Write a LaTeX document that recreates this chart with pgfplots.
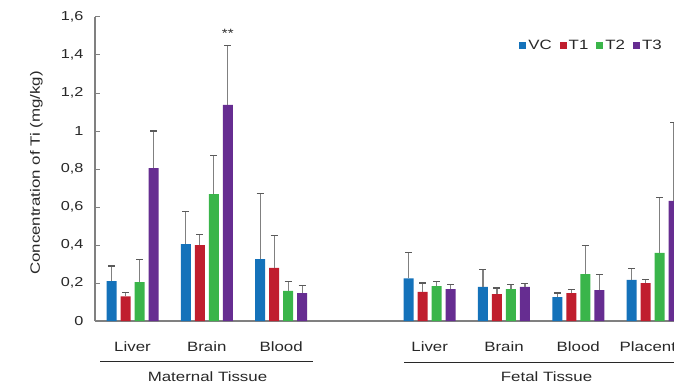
\documentclass[border=0pt]{standalone}
\usepackage{pgfplots}
\pgfplotsset{compat=1.18}
\usepackage{pgfplotstable}
\usepackage{fontspec}
\setmainfont[FakeStretch=1.25]{Liberation Sans}
\definecolor{cVC}{RGB}{20,114,186}
\definecolor{cT1}{RGB}{192,30,46}
\definecolor{cT2}{RGB}{58,181,74}
\definecolor{cT3}{RGB}{102,45,145}
\definecolor{axgray}{RGB}{128,128,128}
\definecolor{txt}{RGB}{40,40,40}
\pgfplotstableread{
x vc vce t1 t1e t2 t2e t3 t3e
0 0.210 0.080 0.130 0.020 0.205 0.120 0.805 0.195
1 0.405 0.170 0.400 0.055 0.668 0.204 1.137 0.314
2 0.326 0.344 0.280 0.171 0.158 0.049 0.147 0.039
4 0.225 0.135 0.153 0.047 0.184 0.023 0.168 0.025
5 0.179 0.091 0.142 0.032 0.168 0.025 0.179 0.019
6 0.126 0.021 0.147 0.020 0.247 0.151 0.163 0.083
7 0.216 0.061 0.200 0.017 0.358 0.291 0.632 0.414
}\datatable
\begin{document}
\begin{tikzpicture}
\useasboundingbox (0,0) rectangle (674pt,389pt);
\clip (0,0) rectangle (674pt,389pt);
\begin{axis}[
  at={(95pt,68pt)}, anchor=south west,
  scale only axis, width=617pt, height=304pt,
  xmin=-0.505, xmax=7.8, ymin=0, ymax=1.6,
  axis x line*=bottom, axis y line*=left,
  axis line style={axgray, line width=1.2pt},
  ytick={0,0.2,...,1.6},
  yticklabel style={/pgf/number format/use comma, /pgf/number format/fixed, /pgf/number format/precision=1, font=\fontsize{13}{15}\selectfont, text=txt, xshift=-8pt},
  /pgf/number format/assume math mode=true,
  ytick style={axgray, line width=1pt},
  tick align=inside, major tick length=5pt,
  xtick={0,1,2,4,5,6,7},
  xticklabels={Liver,Brain,Blood,Liver,Brain,Blood,Placenta},
  xtick style={draw=none},
  xticklabel style={font=\fontsize{13.5}{16}\selectfont, text=txt, anchor=base, yshift=-25pt},
  ylabel={Concentration of Ti (mg/kg)},
  ylabel style={font=\fontsize{13.5}{16}\selectfont, text=txt, at={(axis description cs:-0.0948,0.487)}, anchor=center},
  ybar=4pt, bar width=10pt,
  clip=false,
  legend columns=4,
  legend style={draw=none, fill=none, at={(572pt,285pt)}, anchor=north east, font=\fontsize{13.5}{16}\selectfont, text=txt},
  legend image code/.code={\path[fill=none, draw=none] (0pt,-3.5pt) rectangle (13pt,3.5pt); \fill[#1] (6pt,-3.5pt) rectangle (13pt,3.5pt);},
  error bars/y dir=plus, error bars/y explicit,
  error bars/error bar style={axgray, line width=1.2pt},
  error bars/error mark options={axgray!70!black, line width=1.2pt, mark size=3.5pt, rotate=90},
]
\addplot[fill=cVC, draw=none] table[x=x, y=vc, y error=vce] {\datatable};
\addplot[fill=cT1, draw=none] table[x=x, y=t1, y error=t1e] {\datatable};
\addplot[fill=cT2, draw=none] table[x=x, y=t2, y error=t2e] {\datatable};
\addplot[fill=cT3, draw=none] table[x=x, y=t3, y error=t3e] {\datatable};
\legend{VC,T1,T2,T3}
\node[font=\fontsize{12}{14}\selectfont, text=txt] at (axis cs:1.283,1.516) {**};
\end{axis}
\draw[line width=1.2pt, txt] (100pt,27.3pt) -- (313pt,27.3pt);
\draw[line width=1.2pt, txt] (404pt,26.3pt) -- (690pt,26.3pt);
\node[font=\fontsize{13.5}{16}\selectfont, text=txt] at (207.5pt,12pt) {Maternal Tissue};
\node[font=\fontsize{13.5}{16}\selectfont, text=txt] at (546.5pt,12pt) {Fetal Tissue};
\end{tikzpicture}
\end{document}
